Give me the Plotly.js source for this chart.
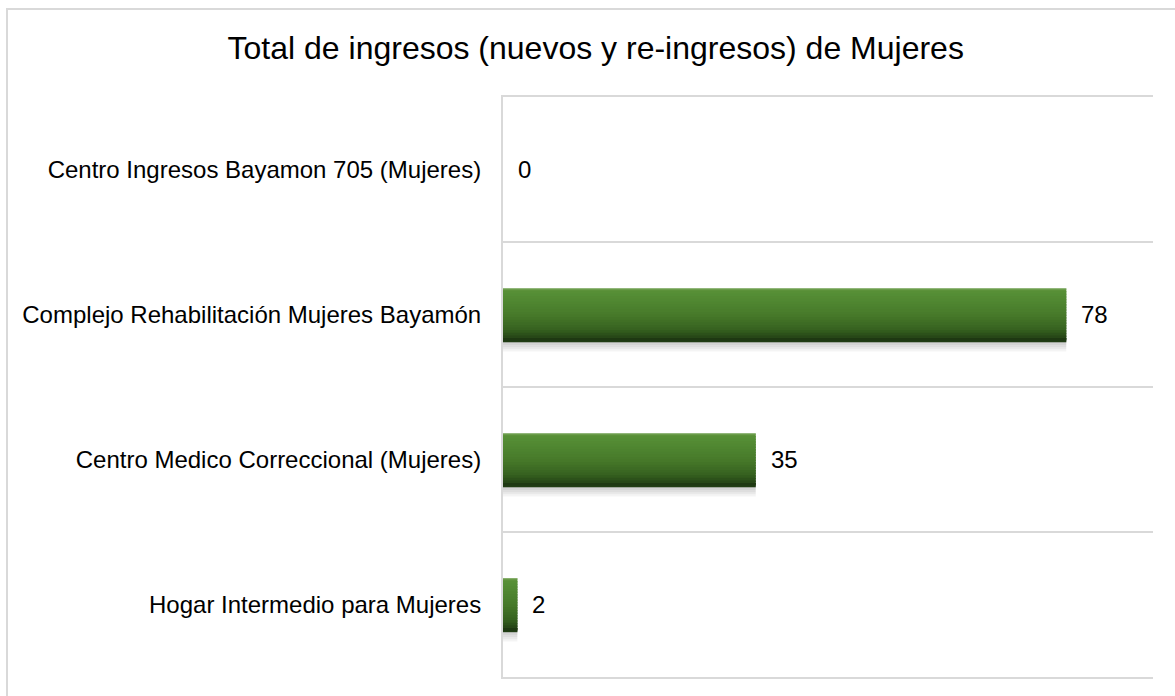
<!DOCTYPE html>
<html>
<head>
<meta charset="utf-8">
<script src="https://cdn.plot.ly/plotly-3.0.1.min.js"></script>
<style>
html,body{margin:0;padding:0;background:#fff;}
#wrap{position:relative;width:1175px;height:696px;overflow:hidden;}
#chart{width:1175px;height:696px;}
#frame{position:absolute;left:6px;top:8px;width:1200px;height:720px;border:2px solid #d9d9d9;pointer-events:none;box-sizing:border-box;}
</style>
</head>
<body>
<div id="wrap"><div id="chart"></div><div id="frame"></div></div>
<script>
const categories = [
  "Centro Ingresos Bayamon 705 (Mujeres)",
  "Complejo Rehabilitación Mujeres Bayamón",
  "Centro Medico Correccional (Mujeres)",
  "Hogar Intermedio para Mujeres"
];
const values = [0, 78, 35, 2];
const chartTitle = "Total de ingresos (nuevos y re-ingresos) de Mujeres";

const barWidth = 0.36;
// vertical gradient stops (top -> bottom) used to shade each bar
const gradientStops = [[0,[94,148,60]],[0.08,[86,143,54]],[0.5,[71,122,42]],[0.8,[53,96,31]],[1,[30,56,18]]];
function colorAt(t){
  for(let k=0;k<gradientStops.length-1;k++){
    const a=gradientStops[k], b=gradientStops[k+1];
    if(t<=b[0]){
      const u=(t-a[0])/(b[0]-a[0]);
      const c=a[1].map((v,j)=>Math.round(v+(b[1][j]-v)*u));
      return "rgb("+c.join(",")+")";
    }
  }
  const l=gradientStops[gradientStops.length-1][1];
  return "rgb("+l.join(",")+")";
}

const traces = [];

// soft shadow layers below the bars
[0.075,0.06,0.045,0.03,0.015].forEach((s, i) => {
  traces.push({
    type:"bar", orientation:"h", y:categories, x:values,
    width: barWidth, offset: -barWidth/2 + s,
    marker:{color:"rgba(0,0,0,0.045)", line:{width:0}}, hoverinfo:"skip", showlegend:false
  });
});

const n = 20;
const h = barWidth / n;
for(let i=0;i<n;i++){
  traces.push({
    type:"bar", orientation:"h", y:categories, x:values,
    width: h * 1.6, offset: -barWidth/2 + i*h,
    marker:{color: colorAt((i+0.5)/n), line:{width:0}}, hoverinfo:"skip", showlegend:false
  });
}
// final thin cap at the bottom so overlaps end exactly at the bar edge
traces.push({
  type:"bar", orientation:"h", y:categories, x:values,
  width: h, offset: barWidth/2 - h,
  marker:{color: colorAt(1), line:{width:0}}, hoverinfo:"skip", showlegend:false
});
// light top edge
traces.push({
  type:"bar", orientation:"h", y:categories, x:values,
  width: 0.007, offset: -barWidth/2,
  marker:{color:"rgb(120,165,90)", line:{width:0}}, hoverinfo:"skip", showlegend:false
});

const annotations = categories.map((c, i) => ({
  x: values[i], y: c, xref:"x", yref:"y",
  text: String(values[i]), showarrow:false,
  xanchor:"left", yanchor:"middle", xshift: 13,
  font:{family:"Liberation Sans, Arial, sans-serif", size:24, color:"#000"}
}));

const layout = {
  width:1175, height:696,
  margin:{l:503, r:22, t:97, b:19, pad:0},
  paper_bgcolor:"#ffffff", plot_bgcolor:"#ffffff",
  barmode:"overlay",
  showlegend:false,
  title:{text:chartTitle, x:0.507, xref:"container", xanchor:"center",
         y:1-48/696, yref:"container", yanchor:"middle",
         font:{family:"Liberation Sans, Arial, sans-serif", size:32, color:"#000"}},
  xaxis:{range:[0,90], showgrid:false, zeroline:false, showticklabels:false, ticks:"",
         showline:true, mirror:true, linecolor:"#d9d9d9", linewidth:2, fixedrange:true},
  yaxis:{type:"category", categoryorder:"array", categoryarray:categories,
         range:[3.5,-0.5], tickson:"boundaries", showgrid:true, gridcolor:"#d9d9d9", gridwidth:2,
         showline:true, mirror:false, linecolor:"#d9d9d9", linewidth:2, ticks:"", ticklabelstandoff:15,
         zeroline:false,
         tickfont:{family:"Liberation Sans, Arial, sans-serif", size:24, color:"#000"}},
  annotations: annotations
};

Plotly.newPlot("chart", traces, layout, {displayModeBar:false, staticPlot:true});
</script>
</body>
</html>
